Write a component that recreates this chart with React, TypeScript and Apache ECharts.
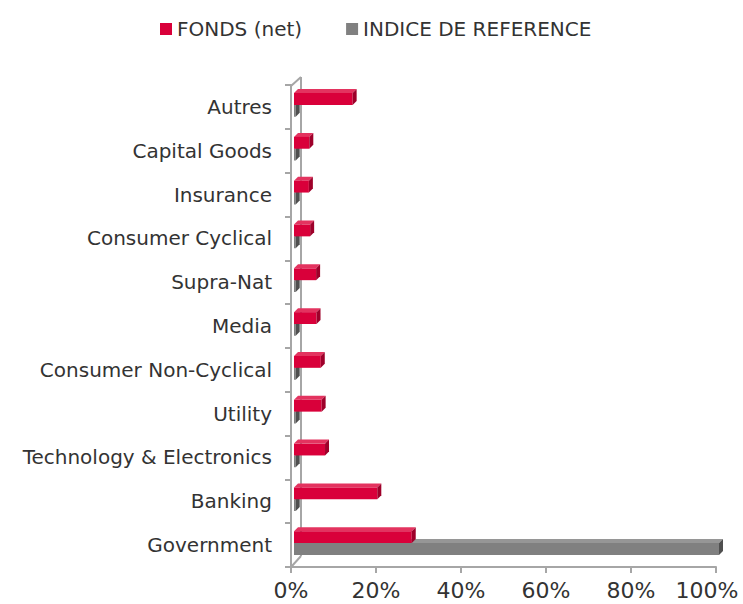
import React, { useEffect, useRef } from "react";
import * as echarts from "echarts";

// Categories listed from bottom to top (ECharts category y-axis starts at the bottom)
const categories = [
  "Government",
  "Banking",
  "Technology & Electronics",
  "Utility",
  "Consumer Non-Cyclical",
  "Media",
  "Supra-Nat",
  "Consumer Cyclical",
  "Insurance",
  "Capital Goods",
  "Autres",
];
const fondsValues = [27.7, 19.6, 7.3, 6.5, 6.3, 5.3, 5.2, 3.8, 3.5, 3.6, 13.8];
const indiceValues = [100, 0.4, 0.4, 0.4, 0.4, 0.4, 0.4, 0.4, 0.4, 0.4, 0.4];
const xTicks = [0, 20, 40, 60, 80, 100];
const seriesNames = ["FONDS (net)", "INDICE DE REFERENCE"];

const FONT = "'DejaVu Sans', sans-serif";
const TEXT = "#333333";
const AXIS = "#a6a6a6";

const GRID_LEFT = 291;
const GRID_RIGHT = 27;
const GRID_TOP = 85;
const GRID_BOTTOM = 37;
const W = 743;
const H = 604;

const palettes = [
  { front: "#d9003a", top: "#e3335f", side: "#9e002a" },
  { front: "#808080", top: "#969696", side: "#4f4f4f" },
];

function makeRender(idx: number) {
  return (params: any, api: any) => {
    const val = api.value(0);
    const cat = api.value(1);
    const start = api.coord([0, cat]);
    const end = api.coord([val, cat]);
    const band = api.size([0, 1])[1];
    const h = band * 0.27;
    const d = 4;
    const yc = start[1];
    const x0 = start[0] + 3;
    const x1 = end[0] + 3;
    const yTop = yc - h - 2 + idx * h;
    const p = palettes[idx];
    return {
      type: "group",
      children: [
        {
          type: "polygon",
          shape: { points: [[x0, yTop], [x0 + d, yTop - d], [x1 + d, yTop - d], [x1, yTop]] },
          style: { fill: p.top },
        },
        {
          type: "rect",
          shape: { x: x0, y: yTop, width: Math.max(x1 - x0, 0.5), height: h },
          style: { fill: p.front },
        },
        {
          type: "polygon",
          shape: { points: [[x1, yTop], [x1 + d, yTop - d], [x1 + d, yTop + h - d], [x1, yTop + h]] },
          style: { fill: p.side },
        },
      ],
    };
  };
}

export default function App() {
  const ref = useRef<HTMLDivElement>(null);
  useEffect(() => {
    if (!ref.current) return;
    const chart = echarts.init(ref.current, null, { renderer: "svg" });
    const bottomY = H - GRID_BOTTOM;
    const backDx = 10;
    const backDy = 9;
    const maxTick = xTicks[xTicks.length - 1];
    chart.setOption({
      animation: false,
      backgroundColor: "#ffffff",
      legend: {
        top: 14,
        left: 155,
        itemWidth: 12,
        itemHeight: 12,
        itemGap: 44,
        icon: "rect",
        textStyle: { fontFamily: FONT, fontSize: 20, color: TEXT },
        data: seriesNames,
      },
      grid: {
        left: GRID_LEFT,
        right: GRID_RIGHT,
        top: GRID_TOP,
        bottom: GRID_BOTTOM,
        containLabel: false,
        outerBoundsMode: "none",
      },
      xAxis: {
        type: "value",
        min: 0,
        max: 100,
        interval: 20,
        axisLine: { show: true, lineStyle: { color: AXIS, width: 2 } },
        axisTick: { show: true, length: 6, lineStyle: { color: AXIS, width: 2 } },
        splitLine: { show: false },
        axisLabel: {
          margin: 12,
          fontFamily: FONT,
          fontSize: 22,
          color: TEXT,
          hideOverlap: false,
          formatter: (v: number) =>
            v === maxTick ? "{last|" + v + "%}" : xTicks.includes(v) ? v + "%" : "",
          rich: {
            last: { fontFamily: FONT, fontSize: 22, color: TEXT, padding: [0, 18, 0, 0] },
          },
        },
      },
      yAxis: {
        type: "category",
        data: categories,
        axisLine: { show: true, lineStyle: { color: AXIS, width: 2 } },
        axisTick: { show: true, length: 6, lineStyle: { color: AXIS, width: 2 } },
        axisLabel: { margin: 19, fontFamily: FONT, fontSize: 20, color: TEXT, padding: [4, 0, 0, 0] },
      },
      graphic: [
        {
          type: "line",
          shape: { x1: GRID_LEFT + backDx, y1: GRID_TOP - backDy + 1, x2: GRID_LEFT + backDx, y2: bottomY - backDy - 2 },
          style: { stroke: AXIS, lineWidth: 2 },
        },
        {
          type: "line",
          shape: { x1: GRID_LEFT, y1: GRID_TOP + 1, x2: GRID_LEFT + backDx, y2: GRID_TOP - backDy + 1 },
          style: { stroke: AXIS, lineWidth: 2 },
        },
        {
          type: "line",
          shape: { x1: GRID_LEFT + 1, y1: bottomY - 1, x2: GRID_LEFT + backDx, y2: bottomY - backDy - 2 },
          style: { stroke: AXIS, lineWidth: 2 },
        },
      ],
      series: [0, 1].map((idx) => ({
        name: seriesNames[idx],
        type: "custom",
        renderItem: makeRender(idx),
        itemStyle: { color: palettes[idx].front },
        encode: { x: 0, y: 1 },
        data: (idx === 0 ? fondsValues : indiceValues).map((v, i) => [v, i]),
        z: 3 - idx,
      })),
    });
    return () => chart.dispose();
  }, []);
  return <div ref={ref} style={{ width: W, height: H, position: "absolute", left: 0, top: 0 }} />;
}
